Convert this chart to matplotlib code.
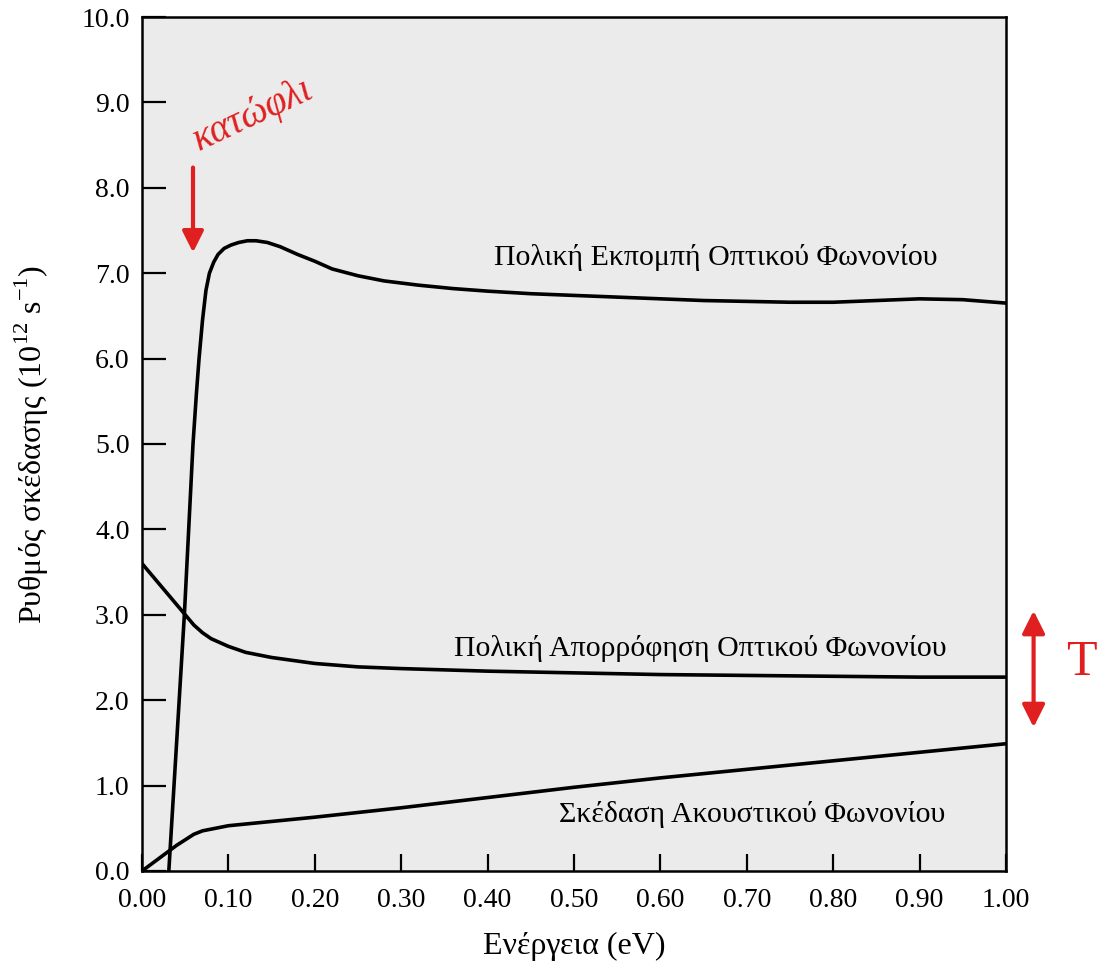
import matplotlib.pyplot as plt
from matplotlib.patches import FancyArrowPatch

plt.rcParams['font.family'] = ['Liberation Serif', 'DejaVu Serif']
plt.rcParams['mathtext.fontset'] = 'custom'
plt.rcParams['mathtext.rm'] = 'Liberation Serif'

# polar optical phonon emission
em_x = [0.031, 0.034, 0.037, 0.043, 0.049, 0.054, 0.059, 0.063, 0.066, 0.070, 0.074,
        0.078, 0.083, 0.088, 0.095, 0.103, 0.112, 0.122, 0.132, 0.145, 0.16, 0.18, 0.2,
        0.22, 0.25, 0.28, 0.32, 0.36, 0.4, 0.45, 0.5, 0.55, 0.6, 0.65, 0.7, 0.75, 0.8,
        0.85, 0.9, 0.95, 1.0]
em_y = [0.0, 0.5, 1.0, 2.0, 3.0, 4.0, 5.0, 5.6, 6.0, 6.45, 6.8,
        7.0, 7.13, 7.22, 7.29, 7.33, 7.36, 7.38, 7.38, 7.36, 7.31, 7.22, 7.14,
        7.05, 6.97, 6.91, 6.86, 6.82, 6.79, 6.76, 6.74, 6.72, 6.70, 6.68, 6.67, 6.66, 6.66,
        6.68, 6.70, 6.69, 6.65]

# polar optical phonon absorption
ab_x = [0, 0.02, 0.04, 0.05, 0.06, 0.07, 0.08, 0.1, 0.12, 0.15, 0.2, 0.25, 0.3,
        0.4, 0.5, 0.6, 0.7, 0.8, 0.9, 1.0]
ab_y = [3.6, 3.36, 3.12, 3.0, 2.88, 2.79, 2.72, 2.63, 2.56, 2.5, 2.43, 2.39, 2.37,
        2.34, 2.32, 2.30, 2.29, 2.28, 2.27, 2.27]

# acoustic phonon scattering
ac_x = [0, 0.02, 0.04, 0.06, 0.07, 0.1, 0.15, 0.2, 0.3, 0.4, 0.5, 0.6, 0.7, 0.8, 0.9, 1.0]
ac_y = [0, 0.15, 0.3, 0.43, 0.47, 0.53, 0.58, 0.63, 0.74, 0.86, 0.98, 1.09, 1.19, 1.29,
        1.39, 1.49]

xticks = [0.0, 0.1, 0.2, 0.3, 0.4, 0.5, 0.6, 0.7, 0.8, 0.9, 1.0]
yticks = [0.0, 1.0, 2.0, 3.0, 4.0, 5.0, 6.0, 7.0, 8.0, 9.0, 10.0]

fig = plt.figure(figsize=(11.14, 9.67), dpi=100)
ax = fig.add_axes([0.1275, 0.0993, 0.7755, 0.8831])
ax.set_facecolor('#ebebeb')

lw = 2.6
ax.plot(em_x, em_y, color='black', lw=lw, solid_capstyle='round')
ax.plot(ab_x, ab_y, color='black', lw=lw, solid_capstyle='round')
ax.plot(ac_x, ac_y, color='black', lw=lw, solid_capstyle='round')

ax.set_xlim(0, 1.0)
ax.set_ylim(0, 10.0)
ax.set_xticks(xticks)
ax.set_yticks(yticks)
ax.set_xticklabels(['%.2f' % v for v in xticks])
ax.set_yticklabels(['%.1f' % v for v in yticks])
ax.tick_params(axis='both', direction='in', labelsize=20, width=1.6)
ax.tick_params(axis='y', length=17, pad=9)
ax.tick_params(axis='x', length=12, pad=12)
for s in ax.spines.values():
    s.set_linewidth(1.8)

ax.set_xlabel('Ενέργεια (eV)', fontsize=23, labelpad=14)
ax.set_ylabel('Ρυθμός σκέδασης (10$^{12}$ s$^{-1}$)', fontsize=23, labelpad=22)

ax.text(0.664, 7.18, 'Πολική Εκπομπή Οπτικού Φωνονίου', fontsize=21.5, ha='center', va='center')
ax.text(0.646, 2.61, 'Πολική Απορρόφηση Οπτικού Φωνονίου', fontsize=21.5, ha='center', va='center')
ax.text(0.706, 0.66, 'Σκέδαση Ακουστικού Φωνονίου', fontsize=21.5, ha='center', va='center')

# red handwritten notes
red = '#e02020'
ax.text(0.128, 8.85, 'κατώφλι', color=red, fontsize=28, style='italic',
        rotation=25, ha='center', va='center')
ax.annotate('', xy=(0.059, 7.21), xytext=(0.059, 8.27),
            arrowprops=dict(arrowstyle='-|>', color=red, lw=3, mutation_scale=32))
arr = FancyArrowPatch((1.032, 1.65), (1.032, 3.08), arrowstyle='<|-|>', color=red,
                      lw=3, mutation_scale=34, transform=ax.transData, clip_on=False)
ax.add_patch(arr)
ax.text(1.087, 2.44, 'T', color=red, fontsize=36, ha='center', va='center', clip_on=False)

fig.savefig('out.png', dpi=100, facecolor='white')
